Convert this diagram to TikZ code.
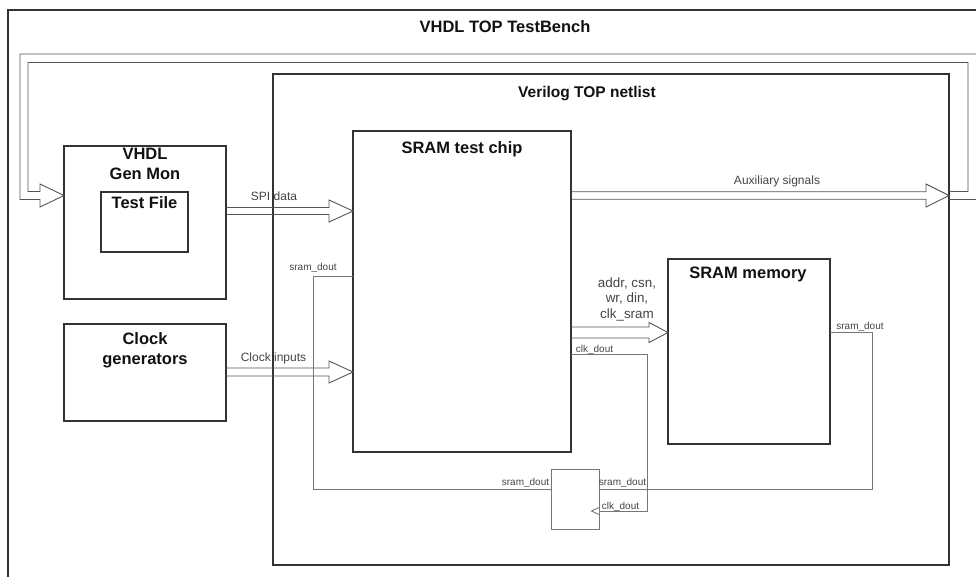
\documentclass[tikz,border=0pt]{standalone}
\usepackage{fontspec}
\setmainfont{Liberation Sans}
\usetikzlibrary{calc}
\definecolor{boxc}{HTML}{333333}
\definecolor{wirec}{HTML}{777777}
\definecolor{arrc}{HTML}{555555}
\definecolor{txtc}{HTML}{111111}
\definecolor{lblc}{HTML}{444444}
\newcommand\hollowarr[5]{%
  \draw[hollow] let \p1=#1, \p2=#2 in
    (\x1,\y2+#3) -- (\x2-#5,\y2+#3) -- (\x2-#5,\y2+#4) -- (\x2,\y2)
    -- (\x2-#5,\y2-#4) -- (\x2-#5,\y2-#3) -- (\x1,\y2-#3);}
\begin{document}
\begin{tikzpicture}[x=1pt,y=-1pt,
  container/.style={draw=boxc, line width=1.3pt, rectangle, anchor=north west, inner sep=0pt, outer sep=0pt},
  blk/.style={draw=boxc, line width=1.3pt, rectangle, anchor=north west, inner sep=0pt, outer sep=0pt},
  ffbox/.style={draw=wirec, line width=0.9pt, rectangle, anchor=north west, inner sep=0pt, outer sep=0pt},
  wire/.style={draw=wirec, line width=0.9pt},
  hollow/.style={draw=arrc, line width=0.9pt, line join=miter},
  ttl/.style={text=txtc, font=\bfseries\fontsize{16.5}{20}\selectfont, inner sep=0pt, align=center},
  lbl/.style={text=lblc, font=\fontsize{12}{14}\selectfont, inner sep=0pt},
  sml/.style={text=lblc, font=\fontsize{10}{12}\selectfont, inner sep=0pt},
]
\useasboundingbox (0,0) rectangle (976,576);
\clip (0,0) rectangle (976,576);

% containers and blocks
\node[container, minimum width=982pt, minimum height=580pt] (tb) at (8,10) {};
\node[ttl, anchor=base] (tbt) at (505,32) {VHDL TOP TestBench};
\node[container, minimum width=676pt, minimum height=491pt] (vtop) at (273,74) {};
\node[ttl, anchor=base, font=\bfseries\fontsize{15.5}{19}\selectfont] (vtopt) at (587,97) {Verilog TOP netlist};

\node[blk, minimum width=162pt, minimum height=153pt] (gen) at (64,146) {};
\node[ttl, anchor=north] (gent) at (145,148) {VHDL\\Gen Mon};
\node[blk, minimum width=87pt, minimum height=60pt] (tf) at (101,192) {};
\node[ttl, anchor=base] (tft) at (144.5,208) {Test File};

\node[blk, minimum width=162pt, minimum height=97pt] (clk) at (64,324) {};
\node[ttl, anchor=north] (clkt) at (145,332.5) {Clock\\generators};

\node[blk, minimum width=218pt, minimum height=321pt] (chip) at (353,131) {};
\node[ttl, anchor=base] (chipt) at (462,153) {SRAM test chip};

\node[blk, minimum width=162pt, minimum height=185pt] (mem) at (668,259) {};
\node[ttl, anchor=base] (memt) at (748,278) {SRAM memory};

\node[ffbox, minimum width=48pt, minimum height=60pt] (ff) at (551,469) {};

% reference heights
\coordinate (spiy) at (0,211);
\coordinate (clky) at (0,372);
\coordinate (auxy) at (0,195.5);
\coordinate (addry) at (0,332.5);

% hollow bus arrows
\hollowarr{(gen.east |- spiy)}{(chip.west |- spiy)}{3.5pt}{11pt}{24pt}
\hollowarr{(clk.east |- clky)}{(chip.west |- clky)}{4pt}{11pt}{24pt}
\hollowarr{(chip.east |- auxy)}{(vtop.east |- auxy)}{3.75pt}{11.5pt}{23pt}
\hollowarr{(chip.east |- addry)}{(mem.west |- addry)}{5.5pt}{10pt}{19pt}

% feedback bus from auxiliary signals to the VHDL Gen Mon
\coordinate (fbout) at (vtop.east |- auxy);
\coordinate (fbin) at (gen.west |- auxy);
\draw[hollow] ($(fbout)+(0,4)$) -- (990,199.5) -- (990,54) -- (20,54) -- (20,199.5)
  -- (40,199.5) -- (40,207) -- (fbin) -- (40,184) -- (40,191.5) -- (28,191.5)
  -- (28,62.5) -- (968,62.5) -- (968,191.5) -- ($(fbout)+(0,-4)$);

% single wires
\draw[wire] (chip.west |- 0,276) -| (313,489) -- (ff.west |- 0,489);
\draw[wire] (chip.east |- 0,354) -| (647,511) -- (ff.east |- 0,511);
\draw[wire] (mem.east |- 0,332) -| (872,489) -- (ff.east |- 0,489);
\draw[wire] ($(ff.east |- 0,511)+(0,-3.5)$) -- ++(-7.5,3.5) -- ++(7.5,3.5);

% labels
\node[lbl, anchor=base] (spil) at (274,200) {SPI data};
\node[lbl, anchor=base] (clkl) at (273.5,361) {Clock inputs};
\node[lbl, anchor=base] (auxl) at (777,184) {Auxiliary signals};
\node[lbl, anchor=north, align=center, font=\fontsize{13.4}{15.5}\selectfont] (addrl) at (627,277.5) {addr, csn,\\wr, din,\\clk\_sram};
\node[sml, anchor=base] (sd1) at (313,270) {sram\_dout};
\node[sml, anchor=base] (cd1) at (594.5,352) {clk\_dout};
\node[sml, anchor=base] (sd2) at (860,329) {sram\_dout};
\node[sml, anchor=base] (sd3) at (525.5,485) {sram\_dout};
\node[sml, anchor=base] (sd4) at (622.5,485) {sram\_dout};
\node[sml, anchor=base] (cd2) at (620.5,509) {clk\_dout};
\end{tikzpicture}
\end{document}
